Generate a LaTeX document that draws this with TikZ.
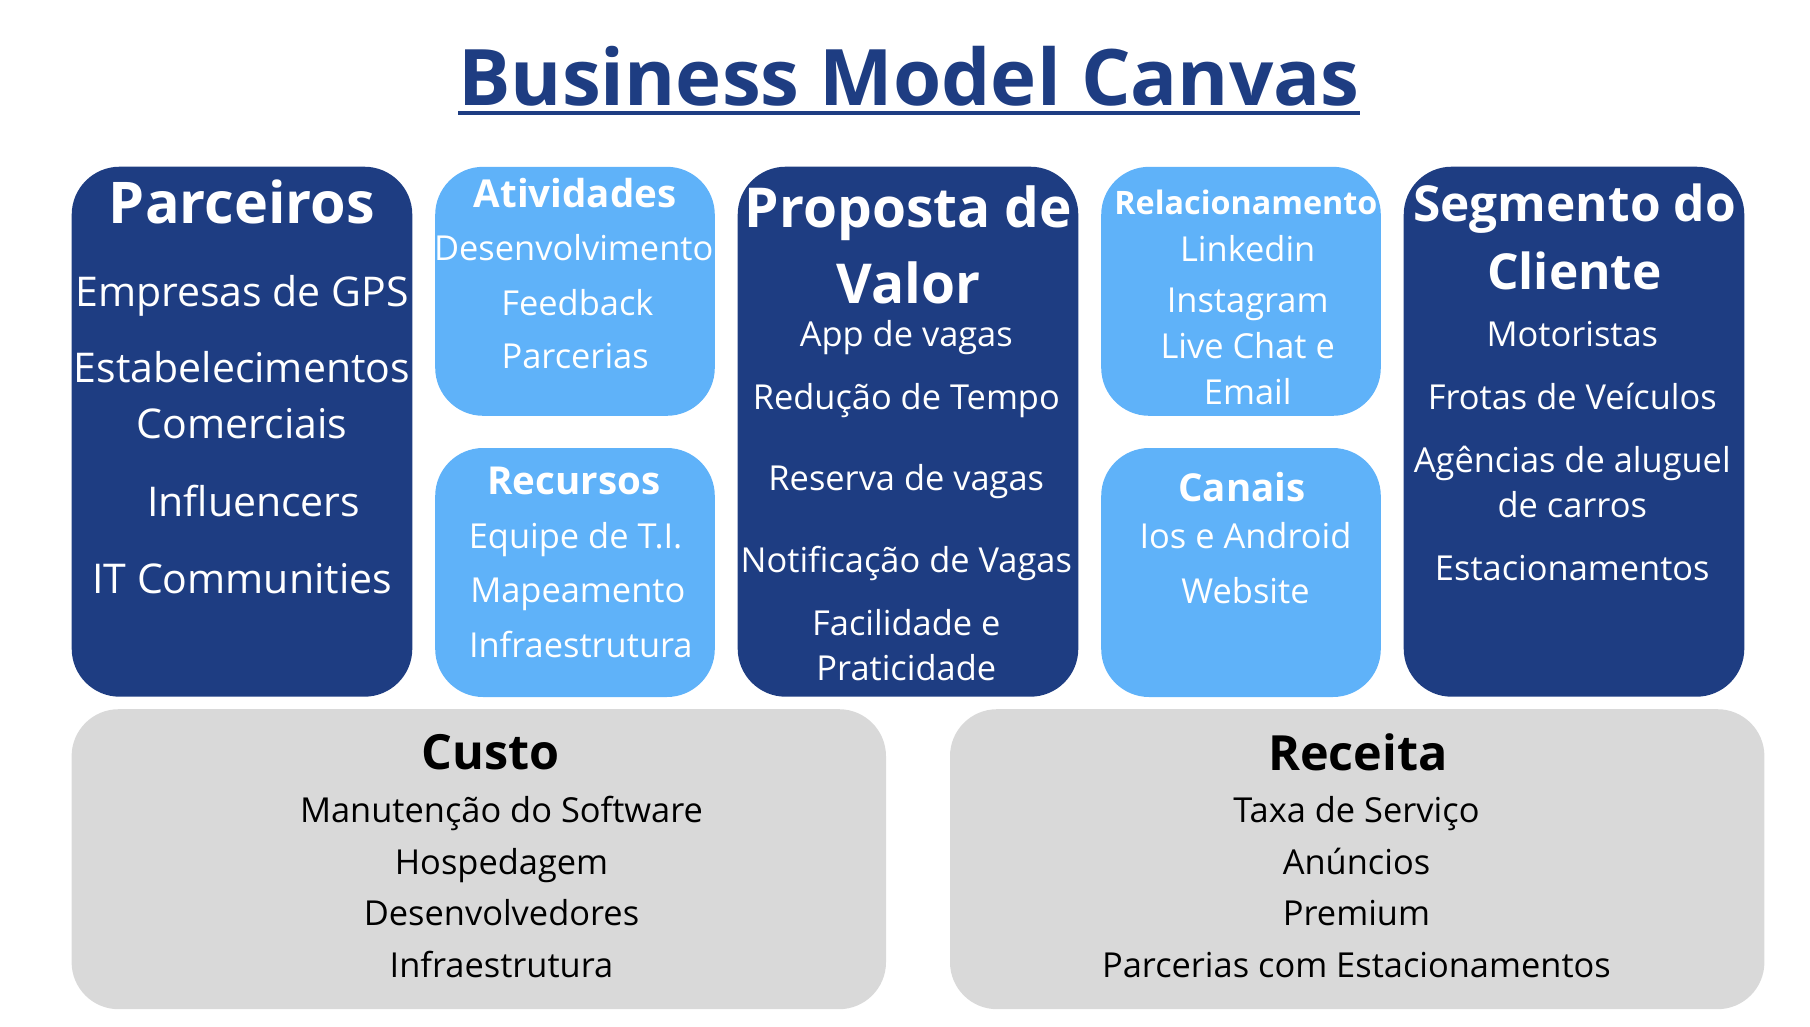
\documentclass[tikz,border=0pt]{standalone}
\usepackage{fontspec}
\setmainfont{Open Sans}
\usetikzlibrary{positioning}
\definecolor{navy}{RGB}{30,61,130}
\definecolor{sky}{RGB}{95,178,249}
\definecolor{cinza}{RGB}{217,217,217}
\tikzstyle{bigblock} = [fill=navy, rounded corners=48pt, minimum width=340.6pt, minimum height=530pt, inner sep=0pt]
\tikzstyle{smallblock} = [fill=sky, rounded corners=48pt, minimum width=279.6pt, minimum height=249pt, inner sep=0pt]
\tikzstyle{costblock} = [fill=cinza, rounded corners=47pt, minimum width=814.4pt, minimum height=300pt, inner sep=0pt]
\tikzstyle{label} = [anchor=base, inner sep=0pt, text=white]
\tikzstyle{bighead} = [label, font=\fontsize{55}{62}\selectfont\bfseries]
\tikzstyle{midhead} = [label, font=\fontsize{49.6}{56}\selectfont\bfseries]
\tikzstyle{smallhead} = [label, font=\fontsize{38.5}{45}\selectfont\bfseries]
\tikzstyle{costhead} = [label, text=black, font=\fontsize{48.5}{56}\selectfont\bfseries]
\tikzstyle{entry} = [label, font=\fontsize{34.4}{40}\selectfont]
\tikzstyle{bigentry} = [label, font=\fontsize{41}{48}\selectfont]
\tikzstyle{costentry} = [entry, text=black]
\newcommand{\bigblock}[1]{node (b#1) [bigblock] {}}
\newcommand{\smallblock}[1]{node (s#1) [smallblock] {}}
\newcommand{\costblock}[1]{node (c#1) [costblock] {}}
\newcommand{\entry}[3]{node (#1) [#2] {#3}}

\begin{document}
\begin{tikzpicture}[x=1pt,y=-1pt]
\useasboundingbox (0,0) rectangle (1810,1026);
\path (909,105) node (title) [anchor=base, inner sep=0pt, text=navy, font=\fontsize{78}{90}\selectfont\bfseries] {Business Model Canvas};
\draw [navy, line width=4.7pt] ([yshift=-8pt]title.base west) -- ([yshift=-8pt]title.base east);

% blocks
\path (242,431.7) \bigblock{1};
\path (b1)+(333,-140.4) \smallblock{1};
\path (s1)+(0,281.2) \smallblock{2};
\path (b1)+(666,0) \bigblock{2};
\path (s1)+(666,0) \smallblock{3};
\path (s2)+(666,0) \smallblock{4};
\path (b2)+(666,0) \bigblock{3};
\path (b1)+(236.8,427.5) \costblock{1};
\path (c1)+(878.4,0) \costblock{2};

% Parceiros
\path (242,223.3) \entry{pa0}{bighead, font=\fontsize{57.5}{64}\selectfont\bfseries}{Parceiros};
\path (pa0.base)+(0,83.4) \entry{pa1}{bigentry}{Empresas de GPS};
\path (pa1.base)+(0,76) \entry{pa2}{bigentry}{Estabelecimentos};
\path (pa2.base)+(0,55.6) \entry{pa3}{bigentry}{Comerciais};
\path (pa3.base)+(11.7,78.4) \entry{pa4}{bigentry}{Influencers};
\path (pa4.base)+(-11.5,76.6) \entry{pa5}{bigentry}{IT Communities};

% Atividades
\path (575,207.1) \entry{at0}{smallhead}{Atividades};
\path (at0.base)+(-1.3,53.6) \entry{at1}{entry}{Desenvolvimento};
\path (at1.base)+(3.7,54.7) \entry{at2}{entry}{Feedback};
\path (at2.base)+(-2.2,53.2) \entry{at3}{entry}{Parcerias};

% Recursos
\path (574,494.6) \entry{re0}{smallhead}{Recursos};
\path (re0.base)+(1.6,53.6) \entry{re1}{entry}{Equipe de T.I.};
\path (re1.base)+(2.2,54.7) \entry{re2}{entry}{Mapeamento};
\path (re2.base)+(3,54.2) \entry{re3}{entry}{Infraestrutura};

% Proposta de Valor
\path (908.5,227.7) \entry{pv0}{bighead}{Proposta de};
\path (pv0.base)+(0,75.6) \entry{pv1}{bighead}{Valor};
\path (pv1.base)+(-2.2,43.4) \entry{pv2}{entry}{App de vagas};
\path (pv2.base)+(0,62.6) \entry{pv3}{entry}{Redução de Tempo};
\path (pv3.base)+(0,81.4) \entry{pv4}{entry}{Reserva de vagas};
\path (pv4.base)+(0,82) \entry{pv5}{entry}{Notificação de Vagas};
\path (pv5.base)+(0,62.6) \entry{pv6}{entry}{Facilidade e};
\path (pv6.base)+(0,45.4) \entry{pv7}{entry}{Praticidade};

% Relacionamento
\path (1245.9,214.3) \entry{rl0}{smallhead, font=\fontsize{32.3}{38}\selectfont\bfseries}{Relacionamento};
\path (rl0.base)+(1.8,47.1) \entry{rl1}{entry}{Linkedin};
\path (rl1.base)+(0,51.1) \entry{rl2}{entry}{Instagram};
\path (rl2.base)+(0,46.4) \entry{rl3}{entry}{Live Chat e};
\path (rl3.base)+(0,45.4) \entry{rl4}{entry}{Email};

% Canais
\path (1242,501.8) \entry{ca0}{smallhead}{Canais};
\path (ca0.base)+(3.5,46.4) \entry{ca1}{entry}{Ios e Android};
\path (ca1.base)+(0,55.4) \entry{ca2}{entry}{Website};

% Segmento do Cliente
\path (1574.5,221) \entry{sc0}{midhead}{Segmento do};
\path (sc0.base)+(0,68.3) \entry{sc1}{midhead}{Cliente};
\path (sc1.base)+(-2.2,57.4) \entry{sc2}{entry}{Motoristas};
\path (sc2.base)+(0,62.6) \entry{sc3}{entry}{Frotas de Veículos};
\path (sc3.base)+(0,63.4) \entry{sc4}{entry}{Agências de aluguel};
\path (sc4.base)+(0,44.6) \entry{sc5}{entry}{de carros};
\path (sc5.base)+(0,63.4) \entry{sc6}{entry}{Estacionamentos};

% Custo
\path (490.5,769.7) \entry{cu0}{costhead}{Custo};
\path (cu0.base)+(11,52.5) \entry{cu1}{costentry}{Manutenção do Software};
\path (cu1.base)+(0,52.5) \entry{cu2}{costentry}{Hospedagem};
\path (cu2.base)+(0,50.9) \entry{cu3}{costentry}{Desenvolvedores};
\path (cu3.base)+(0,51.9) \entry{cu4}{costentry}{Infraestrutura};

% Receita
\path (1358,770.3) \entry{rc0}{costhead}{Receita};
\path (rc0.base)+(-1.5,51.9) \entry{rc1}{costentry}{Taxa de Serviço};
\path (rc1.base)+(0,51.8) \entry{rc2}{costentry}{Anúncios};
\path (rc2.base)+(0,51.6) \entry{rc3}{costentry}{Premium};
\path (rc3.base)+(0,51.9) \entry{rc4}{costentry}{Parcerias com Estacionamentos};
\end{tikzpicture}
\end{document}
